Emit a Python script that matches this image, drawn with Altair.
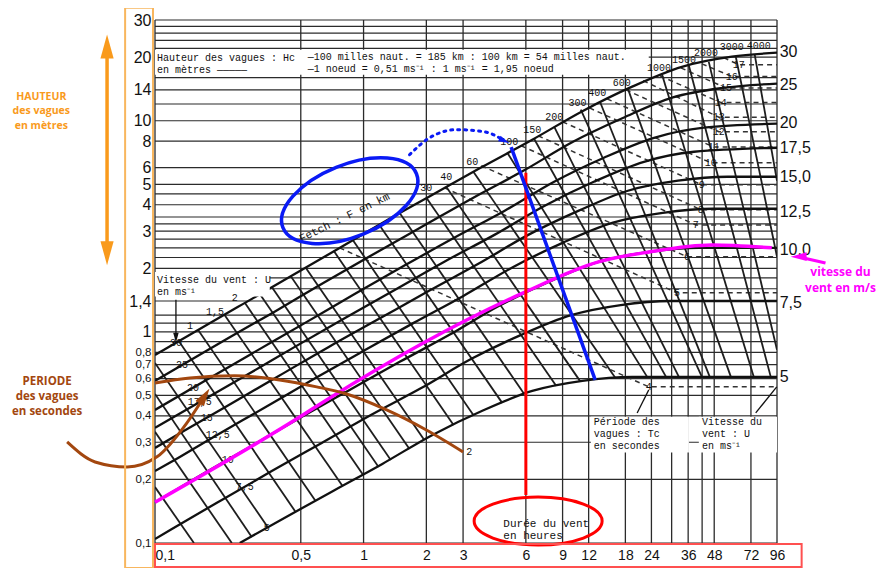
import altair as alt
import pandas as pd

# ---------------- axes / grid ----------------
X_DOMAIN = [0.1, 96]
Y_DOMAIN = [0.1, 30]
x_tick_values = [0.1, 0.5, 1, 2, 3, 6, 9, 12, 18, 24, 36, 48, 72, 96]
y_tick_values = [0.1, 0.2, 0.3, 0.4, 0.5, 0.6, 0.7, 0.8, 1, 1.4, 2, 3, 4, 5, 6, 8, 10, 14, 20, 30]
v_grid = [0.1, 0.5, 1, 2, 3, 6, 9, 12, 18, 24, 30, 36, 42, 48, 72, 96]
h_grid = [0.1, 0.2, 0.3, 0.4, 0.5, 0.6, 0.7, 0.8, 0.9, 1.0, 1.1, 1.2, 1.4, 1.6, 1.8, 2.0,
          2.25, 2.5, 2.75, 3.0, 3.25, 3.5, 4.0, 4.5, 5, 6, 8, 10, 12, 14, 16, 20, 22, 24, 26, 28, 30]

# ---------------- wind speed curves (m/s) : duration (h) -> height (m) ----------------
wind_speeds = [30, 25, 20, 17.5, 15, 12.5, 10, 7.5, 5]
wind_t = [
    [0.1, 0.249, 0.409, 0.711, 1.23, 2.14, 3.71, 6.44, 11.2, 19.4, 33.6, 58.3, 96],
    [0.1, 0.226, 0.371, 0.644, 1.12, 1.94, 3.36, 5.83, 10.1, 17.5, 30.4, 52.8, 96],
    [0.1, 0.183, 0.301, 0.522, 0.906, 1.57, 2.72, 4.73, 8.2, 14.2, 24.7, 42.8, 96],
    [0.1, 0.164, 0.270, 0.468, 0.811, 1.41, 2.44, 4.24, 7.35, 12.7, 22.1, 38.4, 96],
    [0.1, 0.138, 0.226, 0.392, 0.681, 1.18, 2.05, 3.55, 6.16, 10.7, 18.5, 32.2, 55.7, 96],
    [0.1, 0.117, 0.191, 0.333, 0.577, 1.0, 1.73, 3.01, 5.22, 9.0, 15.7, 27.2, 47.3, 96],
    [0.1, 0.164, 0.285, 0.494, 0.857, 1.49, 2.58, 4.47, 7.76, 13.5, 23.4, 40.5, 96],
    [0.1, 0.1205, 0.209, 0.363, 0.630, 1.09, 1.90, 3.29, 5.70, 9.89, 17.1, 29.8, 96],
    [0.255, 0.409, 0.711, 1.23, 2.14, 3.71, 6.44, 11.2, 19.4, 96],
]
wind_h = [
    [0.778, 1.31, 1.74, 2.39, 3.28, 4.46, 6.05, 8.13, 11.1, 14.5, 18.0, 20.1, 21.0],
    [0.586, 0.938, 1.24, 1.71, 2.34, 3.18, 4.32, 5.79, 7.95, 10.3, 12.9, 14.3, 15.0],
    [0.427, 0.605, 0.804, 1.10, 1.51, 2.06, 2.79, 3.74, 5.14, 6.68, 8.30, 9.27, 9.68],
    [0.351, 0.466, 0.618, 0.849, 1.16, 1.58, 2.15, 2.88, 3.95, 5.14, 6.39, 7.13, 7.45],
    [0.282, 0.340, 0.451, 0.618, 0.849, 1.15, 1.56, 2.10, 2.88, 3.74, 4.66, 5.20, 5.43, 5.43],
    [0.219, 0.239, 0.318, 0.436, 0.598, 0.813, 1.10, 1.48, 2.03, 2.64, 3.29, 3.66, 3.83, 3.83],
    [0.156, 0.208, 0.285, 0.391, 0.531, 0.721, 0.968, 1.33, 1.73, 2.15, 2.39, 2.5, 2.5],
    [0.1044, 0.1165, 0.160, 0.219, 0.298, 0.405, 0.543, 0.745, 0.968, 1.20, 1.34, 1.40, 1.40],
    [0.1, 0.130, 0.176, 0.237, 0.325, 0.423, 0.525, 0.586, 0.612, 0.612],
]

# ---------------- fetch lines (km) ----------------
fetch_km = [0.2, 0.3, 0.4, 0.5, 0.75, 1, 1.5, 2, 2.5, 3, 4, 5, 7.5, 10, 15, 20, 30, 40, 60, 100,
            150, 200, 300, 400, 600, 1000, 1500, 2000, 3000, 4000]
fetch_t0 = [0.1, 0.1, 0.1, 0.1, 0.130, 0.161, 0.216, 0.270, 0.318, 0.363, 0.447, 0.528, 0.719,
            0.886, 1.19, 1.49, 2.0, 2.49, 3.36, 4.89, 6.57, 8.2, 11.0, 13.6, 18.5, 27.0, 36.3,
            45.2, 60.9, 75.1]
fetch_h0 = [0.184, 0.336, 0.508, 0.713, 0.906, 1.02, 1.20, 1.37, 1.51, 1.63, 1.84, 2.01, 2.42,
            2.73, 3.21, 3.66, 4.32, 4.87, 5.73, 7.05, 8.22, 9.37, 11.3, 12.3, 14.2, 16.5, 18.2,
            19.0, 20.1, 20.5]
fetch_t1 = [0.1537, 0.2335, 0.291, 0.347, 0.473, 0.589, 0.793, 0.989, 1.18, 1.35, 1.66, 1.94,
            2.70, 3.36, 4.62, 5.89, 8.38, 10.9, 16.1, 22.9, 28.2, 32.5, 41.9, 45.7, 57.7, 74.3,
            89.6, 96, 96, 96]
fetch_h1 = [0.1, 0.1, 0.1068, 0.119, 0.140, 0.158, 0.186, 0.212, 0.229, 0.247, 0.279, 0.311,
            0.362, 0.404, 0.461, 0.508, 0.555, 0.586, 0.606, 0.612, 0.612, 0.612, 0.612, 0.612,
            0.612, 0.612, 0.612, 0.822, 2.27, 5.19]
fetch_label = ["1", "1,5", "2", "30", "40", "60", "100", "150", "200", "300", "400", "600",
               "1000", "1500", "2000", "3000", "4000"]
fetch_label_t = [0.147, 0.194, 0.241, 2.0, 2.49, 3.32, 5.0, 6.44, 8.2, 10.6, 13.2, 17.3,
                 26.1, 34.4, 43.8, 58.3, 78.5]
fetch_label_h = [1.07, 1.24, 1.45, 4.81, 5.43, 6.39, 7.95, 9.07, 10.4, 12.2, 13.6, 15.1,
                 17.8, 19.5, 21.0, 22.4, 22.7]

# ---------------- period lines (s), dashed ----------------
period_s = [4, 5, 6, 7, 8, 9, 10, 11, 12, 13, 14, 15, 16, 17]
period_t = [[0.767, 23.3, 96], [2.44, 31.8, 96], [3.67, 35.5, 96], [5.70, 39.2, 96],
            [6.87, 41.4, 96], [9.0, 41.8, 96], [12.1, 46.2, 96], [14.7, 47.8, 96],
            [18.1, 50.5, 96], [21.9, 50.5, 96], [26.4, 51.6, 96], [33.2, 54.6, 96],
            [41.9, 58.3, 96], [53.3, 63.0, 96]]
period_h = [[2.5, 0.549, 0.549], [4.81, 1.53, 1.53], [6.12, 2.27, 2.27], [7.61, 3.21, 3.21],
            [8.49, 3.79, 3.79], [9.89, 4.97, 4.97], [11.5, 6.32, 6.32], [12.7, 7.5, 7.5],
            [14.0, 8.87, 8.87], [15.5, 10.4, 10.4], [16.3, 12.2, 12.2], [17.8, 14.3, 14.3],
            [18.6, 16.2, 16.2], [19.9, 18.4, 18.4]]

# wind labels on the left of the curves
wind_label = ["30", "25", "20", "17,5", "15", "12,5", "10", "7,5", "5"]
wind_label_t = [0.126, 0.1346, 0.152, 0.164, 0.177, 0.200, 0.223, 0.2695, 0.343]
wind_label_h = [0.887, 0.698, 0.543, 0.466, 0.391, 0.325, 0.247, 0.184, 0.1178]

# right side wind speed scale
right_label = ["30", "25", "20", "17,5", "15,0", "12,5", "10,0", "7,5", "5"]
right_label_h = [21.2, 14.8, 9.79, 7.45, 5.43, 3.70, 2.45, 1.372, 0.612]
right_label_t = 98.9

# ---------------- coloured annotations ----------------
pink_t = [0.1, 0.494, 0.665, 5.83, 13.5, 23.4, 46.8, 90.6]
pink_h = [0.156, 0.395, 0.476, 1.53, 2.15, 2.39, 2.58, 2.5]
brown_t = [0.1, 0.147, 0.241, 0.396, 0.596, 0.829, 1.29, 2.0, 3.0]
brown_h = [0.573, 0.605, 0.619, 0.592, 0.549, 0.508, 0.427, 0.343, 0.270]
brown_arrow_t = [0.0379, 0.0516, 0.0735, 0.1022, 0.142, 0.173]
brown_arrow_h = [0.301, 0.242, 0.229, 0.256, 0.370, 0.497]
blue_t = [5.1, 12.9]
blue_h = [7.5, 0.592]
blue_dot_t = [1.66, 2.07, 2.79, 3.79, 4.73]
blue_dot_h = [6.90, 8.30, 9.07, 8.87, 8.04]
red_t = [6.0, 6.0]
red_h = [5.67, 0.169]
orange_t = [0.0589, 0.0589]
orange_h = [21.7, 2.45]

font_mono = "Liberation Mono"
font_sans = "Liberation Sans"

xs = alt.Scale(type="log", domain=X_DOMAIN, nice=False)
ys = alt.Scale(type="log", domain=Y_DOMAIN, nice=False)

XAXIS = alt.Axis(values=x_tick_values, labelExpr="replace(toString(datum.value), '.', ',')",
                 grid=False, ticks=False, domain=False, labelFontSize=14, labelPadding=5,
                 labelAlign={"condition": {"test": "datum.value < 0.2", "value": "left"},
                             "value": "center"},
                 title=None, labelFont=font_sans, labelColor="#111", labelOverlap=False,
                 labelFlush=False)
YAXIS = alt.Axis(values=y_tick_values, labelExpr="replace(toString(datum.value), '.', ',')",
                 grid=False, ticks=False, domain=False, labelPadding=4,
                 labelFontSize={"condition": {"test": "datum.value < 1", "value": 11.5}, "value": 16},
                 title=None, labelFont=font_sans, labelColor="#111", labelOverlap=False,
                 labelFlush=False)


def X(field="t"):
    return alt.X(f"{field}:Q", scale=xs, axis=XAXIS)


def Y(field="h"):
    return alt.Y(f"{field}:Q", scale=ys, axis=YAXIS)


def lines_df(ids, ts, hs):
    rows = []
    for i, tt, hh in zip(ids, ts, hs):
        for k, (a, b) in enumerate(zip(tt, hh)):
            rows.append({"id": str(i), "o": k, "t": a, "h": b})
    return pd.DataFrame(rows)


def text_layer(texts, ts, hs, **kw):
    df = pd.DataFrame({"t": ts, "h": hs, "txt": texts})
    return alt.Chart(df).mark_text(clip=False, **kw).encode(x=X(), y=Y(), text="txt:N")


layers = []

# axis carrier
axis_df = pd.DataFrame({"t": X_DOMAIN, "h": Y_DOMAIN})
layers.append(alt.Chart(axis_df).mark_point(opacity=0).encode(x=X(), y=Y()))

# grid
layers.append(alt.Chart(pd.DataFrame({"t": v_grid})).mark_rule(color="#2b2b2b", strokeWidth=1.3)
              .encode(x=X()))
layers.append(alt.Chart(pd.DataFrame({"h": h_grid})).mark_rule(color="#2b2b2b", strokeWidth=1.2)
              .encode(y=Y()))

# period dashed lines
pdf = lines_df(period_s, period_t, period_h)
layers.append(alt.Chart(pdf).mark_line(color="#333", strokeWidth=1.5, strokeDash=[5, 4], clip=True)
              .encode(x=X(), y=Y(), detail="id:N", order="o:Q"))

# fetch lines
fdf = lines_df(fetch_km, [[a, b] for a, b in zip(fetch_t0, fetch_t1)],
               [[a, b] for a, b in zip(fetch_h0, fetch_h1)])
layers.append(alt.Chart(fdf).mark_line(color="#1e1e1e", strokeWidth=1.8, clip=True)
              .encode(x=X(), y=Y(), detail="id:N", order="o:Q"))

# wind curves
wdf = lines_df(wind_speeds, wind_t, wind_h)
layers.append(alt.Chart(wdf).mark_line(color="#111", strokeWidth=2.3, interpolate="monotone", clip=True)
              .encode(x=X(), y=Y(), detail="id:N", order="o:Q"))

# white boxes behind texts
box_df = pd.DataFrame({
    "t": [0.1, 12.3, 40.5, 0.1],
    "t2": [23.3, 36.3, 96, 0.355],
    "h": [21.7, 0.396, 0.396, 1.92],
    "h2": [16.5, 0.268, 0.268, 1.47],
})
layers.append(alt.Chart(box_df).mark_rect(color="white")
              .encode(x=X(), x2="t2:Q", y=Y(), y2="h2:Q"))

# black texts
layers.append(text_layer(["Hauteur des vagues : Hc", "en mètres \u2014\u2014\u2014\u2014\u2014"],
                         [0.1022, 0.1022], [19.9, 17.4], align="left", baseline="middle",
                         font=font_mono, fontSize=10, color="#111"))
layers.append(text_layer(["\u2014100 milles naut. = 185 km : 100 km = 54 milles naut.",
                          "\u20141 noeud = 0,51 ms\u207b\u00b9 : 1 ms\u207b\u00b9 = 1,95 noeud"],
                         [0.54, 0.54], [20.1, 17.6], align="left", baseline="middle",
                         font=font_mono, fontSize=10, color="#111"))
layers.append(text_layer(["Vitesse du vent : U", "en ms\u207b\u00b9"], [0.1022, 0.1022], [1.76, 1.55],
                         align="left", baseline="middle", font=font_mono, fontSize=10, color="#111"))
layers.append(text_layer(["Période des", "vagues : Tc", "en secondes"], [12.7] * 3,
                         [0.375, 0.329, 0.288], align="left", baseline="middle", font=font_mono,
                         fontSize=10, color="#111"))
layers.append(text_layer(["Vitesse du", "vent : U", "en ms\u207b\u00b9"], [41.9] * 3,
                         [0.375, 0.329, 0.288], align="left", baseline="middle", font=font_mono,
                         fontSize=10, color="#111"))
layers.append(text_layer(["Durée du vent", "en heures"], [4.68, 4.68], [0.123, 0.108],
                         align="left", baseline="middle", font=font_mono, fontSize=11, color="#111"))
layers.append(text_layer(["Fetch : F en km"], [0.811], [3.47], align="center", baseline="middle",
                         font=font_mono, fontSize=11, angle=334, color="#111"))
layers.append(text_layer(wind_label, wind_label_t, wind_label_h, align="center", baseline="middle",
                         font=font_mono, fontSize=10, color="#111"))
layers.append(text_layer(fetch_label, fetch_label_t, fetch_label_h, align="center", baseline="middle",
                         font=font_mono, fontSize=10, color="#111"))
layers.append(text_layer([str(p) for p in period_s], [r[1] for r in period_t],
                         [r[1] for r in period_h], align="center", baseline="middle",
                         font=font_mono, fontSize=10, color="#111"))
layers.append(text_layer(["2"], [3.11], [0.270], align="left", baseline="middle",
                         font=font_mono, fontSize=10, color="#111"))
layers.append(text_layer(right_label, [right_label_t] * len(right_label), right_label_h,
                         align="left", baseline="middle", font=font_sans, fontSize=16, color="#111"))

# pointer lines from the text boxes
ptr = lines_df(["a", "b", "c"], [[20.5, 23.3], [75.9, 95.7], [0.126, 0.126]],
               [[0.413, 0.531], [0.413, 0.549], [1.42, 0.968]])
layers.append(alt.Chart(ptr).mark_line(color="#111", strokeWidth=1.3, clip=False)
              .encode(x=X(), y=Y(), detail="id:N", order="o:Q"))

# ---------------- coloured annotations ----------------
layers.append(alt.Chart(pd.DataFrame({"t": pink_t, "h": pink_h}))
              .mark_line(color="#FF00FF", strokeWidth=3.5, interpolate="monotone").encode(x=X(), y=Y()))
layers.append(alt.Chart(pd.DataFrame({"t": red_t, "h": red_h}))
              .mark_line(color="#FF0000", strokeWidth=3).encode(x=X(), y=Y()))
layers.append(alt.Chart(pd.DataFrame({"t": blue_t, "h": blue_h}))
              .mark_line(color="#0A1AF5", strokeWidth=3.5).encode(x=X(), y=Y()))
layers.append(alt.Chart(pd.DataFrame({"t": blue_dot_t, "h": blue_dot_h}))
              .mark_line(color="#0A1AF5", strokeWidth=3, strokeDash=[2, 5], strokeCap="round",
                         interpolate="monotone").encode(x=X(), y=Y()))
layers.append(alt.Chart(pd.DataFrame({"t": brown_t, "h": brown_h}))
              .mark_line(color="#A3470F", strokeWidth=3, interpolate="monotone").encode(x=X(), y=Y()))
layers.append(alt.Chart(pd.DataFrame({"t": brown_arrow_t, "h": brown_arrow_h}))
              .mark_line(color="#A3470F", strokeWidth=3, interpolate="monotone", clip=False)
              .encode(x=X(), y=Y()))
layers.append(alt.Chart(pd.DataFrame({"t": orange_t, "h": orange_h}))
              .mark_line(color="#F99A1C", strokeWidth=3.5, clip=False).encode(x=X(), y=Y()))

# ellipses (custom symbol paths)
ell_red = "M -1 0 A 1 0.375 0 1 1 1 0 A 1 0.375 0 1 1 -1 0 Z"
ell_blue = "M -1 0 A 1 0.5 0 1 1 1 0 A 1 0.5 0 1 1 -1 0 Z"
layers.append(alt.Chart(pd.DataFrame({"t": [6.87], "h": [0.127]}))
              .mark_point(shape=ell_red, size=16384, filled=False, color="#FF0000", strokeWidth=3,
                          opacity=1, clip=False).encode(x=X(), y=Y()))
layers.append(alt.Chart(pd.DataFrame({"t": [0.858], "h": [4.18]}))
              .mark_point(shape=ell_blue, size=20736, filled=False, color="#0A1AF5", strokeWidth=3.5,
                          opacity=1, angle=338, clip=False).encode(x=X(), y=Y()))

# arrow heads
head = "M 0 -1 L 0.55 1 L -0.55 1 Z"
heads = pd.DataFrame({
    "t": [0.0589, 0.0589, 0.173, 121.9, 4.73, 0.126],
    "h": [22.5, 2.36, 0.497, 2.27, 8.04, 0.937],
    "ang": [0, 180, 33, 270, 114, 180],
    "col": ["#F99A1C", "#F99A1C", "#A3470F", "#FF00FF", "#0A1AF5", "#111111"],
    "sz": [576, 576, 324, 256, 120, 100],
})
layers.append(alt.Chart(heads).mark_point(shape=head, filled=True, opacity=1, clip=False)
              .encode(x=X(), y=Y(), angle=alt.Angle("ang:Q", scale=None),
                      color=alt.Color("col:N", scale=None), size=alt.Size("sz:Q", scale=None)))

# pink pointer line
layers.append(alt.Chart(pd.DataFrame({"t": [164, 128.8], "h": [2.12, 2.24]}))
              .mark_line(color="#FF00FF", strokeWidth=3, clip=False).encode(x=X(), y=Y()))

# frames (orange around y labels, red around x labels)
frames = pd.DataFrame({
    "t": [0.0719, 0.1], "t2": [0.0978, 126],
    "h": [0.0762, 0.0770], "h2": [34.3, 0.0990],
    "col": ["#F8B65E", "#FF5050"],
})
layers.append(alt.Chart(frames).mark_rect(fillOpacity=0, strokeWidth=2, clip=False)
              .encode(x=X(), x2="t2:Q", y=Y(), y2="h2:Q", stroke=alt.Stroke("col:N", scale=None)))

# coloured texts
layers.append(text_layer(["HAUTEUR", "des vagues", "en mètres"], [0.0285] * 3, [13.0, 11.15, 9.47],
                         align="center", baseline="middle", font="Open Sans", fontSize=10.5,
                         fontWeight="bold", color="#F99A1C"))
layers.append(text_layer(["PERIODE", "des vagues", "en secondes"], [0.0304] * 3, [0.580, 0.492, 0.418],
                         align="center", baseline="middle", font="Open Sans", fontSize=11.5,
                         fontWeight="bold", color="#A3470F"))
layers.append(text_layer(["vitesse du", "vent en m/s"], [193.6, 193.6], [1.92, 1.62],
                         align="center", baseline="middle", font="Open Sans", fontSize=12,
                         fontWeight="bold", color="#FF00FF"))

chart = alt.layer(*layers).properties(
    width=622, height=523,
    padding={"left": 147, "top": 12, "right": 105, "bottom": 25},
    autosize=alt.AutoSizeParams(type="none"),
    background="white",
).configure_view(stroke=None)

chart.save("out.html", embed_options={"renderer": "svg", "actions": False})
